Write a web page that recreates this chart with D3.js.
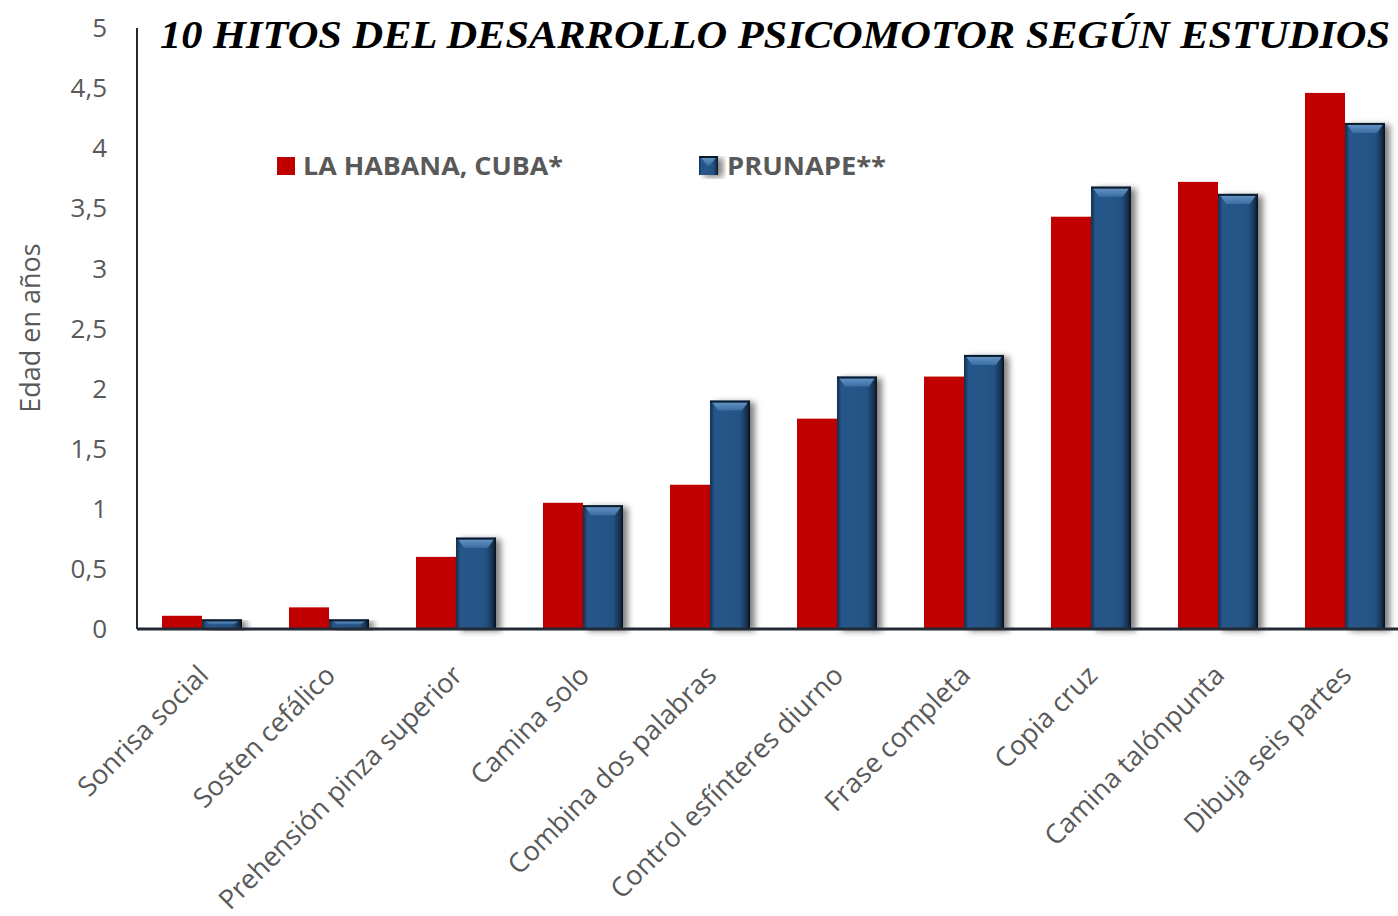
<!DOCTYPE html>
<html>
<head>
<meta charset="utf-8">
<script src="https://cdn.jsdelivr.net/npm/d3@7"></script>
<style>
  body { margin: 0; background: #fff; }
  text { font-family: "Open Sans", "Noto Sans", sans-serif; }
</style>
</head>
<body>
<script>
// data
var categories = ["Sonrisa social", "Sosten cefálico", "Prehensión pinza superior", "Camina solo",
  "Combina dos palabras", "Control esfínteres diurno", "Frase completa", "Copia cruz",
  "Camina talónpunta", "Dibuja seis partes"];
var habana  = [0.11, 0.18, 0.6, 1.05, 1.2, 1.75, 2.1, 3.43, 3.72, 4.46];
var prunape = [0.08, 0.08, 0.76, 1.03, 1.9, 2.1, 2.28, 3.68, 3.62, 4.21];
var seriesNames = ["LA HABANA, CUBA*", "PRUNAPE**"];
var yTicks = [0, 0.5, 1, 1.5, 2, 2.5, 3, 3.5, 4, 4.5, 5];

var W = 1398, H = 916;
var plotLeft = 137, plotRight = 1398, plotTop = 28, plotBottom = 629;

var svg = d3.select("body").append("svg")
    .attr("width", W)
    .attr("height", H);

var defs = svg.append("defs");

// horizontal shading for the bevelled blue bars
var g1 = defs.append("linearGradient").attr("id", "blueBody").attr("x1", 0).attr("x2", 1).attr("y1", 0).attr("y2", 0);
g1.append("stop").attr("offset", "0%").attr("stop-color", "#12304f");
g1.append("stop").attr("offset", "12%").attr("stop-color", "#26578a");
g1.append("stop").attr("offset", "75%").attr("stop-color", "#245384");
g1.append("stop").attr("offset", "92%").attr("stop-color", "#15314f");
g1.append("stop").attr("offset", "100%").attr("stop-color", "#050c14");

var g2 = defs.append("linearGradient").attr("id", "blueTop").attr("x1", 0).attr("x2", 0).attr("y1", 0).attr("y2", 1);
g2.append("stop").attr("offset", "0%").attr("stop-color", "#6c9acb");
g2.append("stop").attr("offset", "100%").attr("stop-color", "#3a6ea3");

var sh = defs.append("filter").attr("id", "shadow")
    .attr("x", "-20%").attr("y", "-10%").attr("width", "160%").attr("height", "130%");
sh.append("feGaussianBlur").attr("in", "SourceAlpha").attr("stdDeviation", 3);
sh.append("feOffset").attr("dx", 5).attr("dy", 2).attr("result", "b");
sh.append("feComponentTransfer").append("feFuncA").attr("type", "linear").attr("slope", 0.5);
var mg = sh.append("feMerge");
mg.append("feMergeNode");
mg.append("feMergeNode").attr("in", "SourceGraphic");

// band range runs slightly past the axis end, like the original
var x0 = d3.scaleBand()
    .domain(categories)
    .range([138.5, 1408.5])
    .paddingInner(0.37)
    .paddingOuter(0.185);

var x1 = d3.scaleBand()
    .domain([0, 1])
    .range([0, x0.bandwidth()]);

var y = d3.scaleLinear()
    .domain([0, 5])
    .range([plotBottom, plotTop]);

// y tick labels
svg.append("g").selectAll("text")
    .data(yTicks)
    .enter().append("text")
    .attr("x", 107)
    .attr("y", function(d) { return y(d); })
    .attr("dy", "0.35em")
    .attr("text-anchor", "end")
    .attr("fill", "#595959")
    .style("font-size", "26px")
    .text(function(d) { return String(d).replace(".", ","); });

// axis title
svg.append("text")
    .attr("transform", "translate(40," + 328 + ") rotate(-90)")
    .attr("text-anchor", "middle")
    .attr("fill", "#595959")
    .style("font-size", "27px")
    .text("Edad en años");

// bars
var groups = svg.append("g").selectAll("g")
    .data(categories)
    .enter().append("g")
    .attr("transform", function(d) { return "translate(" + x0(d) + ",0)"; });

groups.append("rect")
    .attr("x", x1(0))
    .attr("y", function(d, i) { return y(habana[i]); })
    .attr("width", x1.bandwidth())
    .attr("height", function(d, i) { return plotBottom - y(habana[i]); })
    .attr("fill", "#c00000");

function blueBar(sel, bx, by, bw, bh) {
  var g = sel.append("g").attr("filter", "url(#shadow)");
  g.append("rect")
      .attr("x", bx).attr("y", by)
      .attr("width", bw).attr("height", bh)
      .attr("fill", "url(#blueBody)");
  var bev = Math.min(10, bh / 2);
  g.append("polygon")
      .attr("points", [[bx + 1, by], [bx + bw - 1, by], [bx + bw - 8, by + bev], [bx + 8, by + bev]].join(" "))
      .attr("fill", "url(#blueTop)");
  g.append("rect")
      .attr("x", bx).attr("y", by)
      .attr("width", bw).attr("height", 2)
      .attr("fill", "#0c1a29");
  return g;
}

groups.each(function(d, i) {
  var v = prunape[i];
  blueBar(d3.select(this), x1(1), y(v), x1.bandwidth(), plotBottom - y(v));
});

// axes lines
svg.append("line")
    .attr("x1", plotLeft).attr("x2", plotLeft)
    .attr("y1", plotTop).attr("y2", plotBottom)
    .attr("stroke", "#222a35").attr("stroke-width", 2);
svg.append("line")
    .attr("x1", plotLeft).attr("x2", plotRight)
    .attr("y1", plotBottom).attr("y2", plotBottom)
    .attr("stroke", "#222a35").attr("stroke-width", 3);

// category labels
svg.append("g").selectAll("text")
    .data(categories)
    .enter().append("text")
    .attr("transform", function(d) {
      return "translate(" + (x0(d) + x0.bandwidth() / 2 + 8) + "," + 677 + ") rotate(-45)";
    })
    .attr("text-anchor", "end")
    .attr("fill", "#595959")
    .style("font-size", "27px")
    .text(function(d) { return d; });

// legend
var legend = svg.append("g");
legend.append("rect")
    .attr("x", 277).attr("y", 157).attr("width", 18).attr("height", 18)
    .attr("fill", "#c00000");
legend.append("text")
    .attr("x", 303).attr("y", 175)
    .attr("fill", "#595959")
    .attr("font-weight", "bold")
    .attr("textLength", 260)
    .attr("lengthAdjust", "spacingAndGlyphs")
    .style("font-size", "25px")
    .text(seriesNames[0]);
blueBar(legend, 699, 156, 19, 19);
legend.append("text")
    .attr("x", 727).attr("y", 175)
    .attr("fill", "#595959")
    .attr("font-weight", "bold")
    .attr("textLength", 159)
    .attr("lengthAdjust", "spacingAndGlyphs")
    .style("font-size", "25px")
    .text(seriesNames[1]);

// title
svg.append("text")
    .attr("x", 160).attr("y", 48)
    .attr("textLength", 1230)
    .attr("lengthAdjust", "spacingAndGlyphs")
    .style("font-family", "'Liberation Serif', 'Times New Roman', serif")
    .style("font-size", "41px")
    .style("font-weight", "bold")
    .style("font-style", "italic")
    .attr("fill", "#000")
    .text("10 HITOS DEL DESARROLLO PSICOMOTOR SEGÚN ESTUDIOS");
</script>
</body>
</html>
